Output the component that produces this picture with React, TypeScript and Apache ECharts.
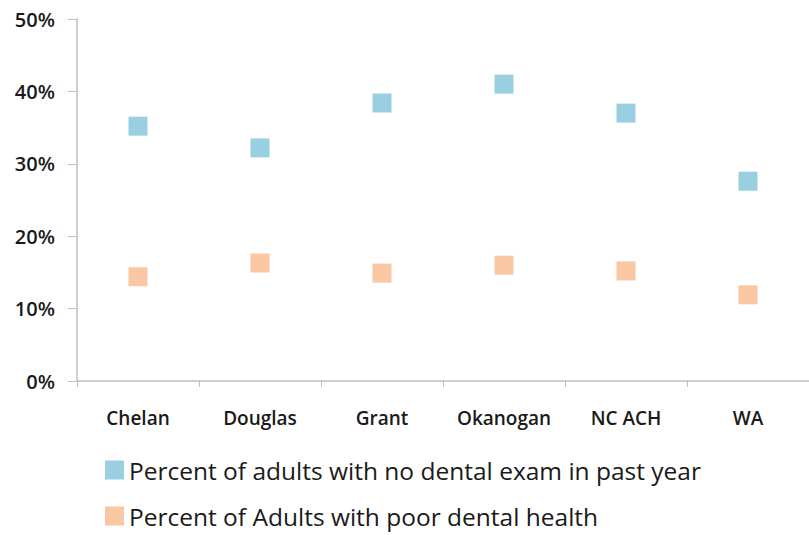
import React, { useEffect, useRef } from "react";
import * as echarts from "echarts";

const categories = ["Chelan", "Douglas", "Grant", "Okanogan", "NC ACH", "WA"];
const noExam = [35.2, 32.2, 38.4, 41.0, 37.0, 27.6];
const poorHealth = [14.4, 16.3, 14.9, 16.0, 15.2, 11.9];
const seriesNames = [
  "Percent of adults with no dental exam in past year",
  "Percent of Adults with poor dental health",
];

export default function App() {
  const ref = useRef<HTMLDivElement>(null);
  useEffect(() => {
    if (!ref.current) return;
    const chart = echarts.init(ref.current, undefined, { renderer: "svg" });
    const axisColor = "#bfbfbf";
    const legendBase = {
      orient: "horizontal",
      left: 105,
      itemWidth: 19,
      itemHeight: 19,
      itemTextGap: 12,
      padding: 0,
      icon: "rect",
      textStyle: {
        fontSize: 24.5,
        lineHeight: 26,
        color: "#1a1a1a",
        fontFamily: "Open Sans",
      },
    };
    chart.setOption({
      animation: false,
      backgroundColor: "#ffffff",
      grid: { left: 77, right: -8, top: 19, bottom: 154 },
      xAxis: {
        type: "category",
        data: categories,
        boundaryGap: true,
        axisLine: { lineStyle: { color: axisColor, width: 1.5 } },
        axisTick: { show: true, interval: 0, length: 6, lineStyle: { color: axisColor } },
        axisLabel: {
          interval: 0,
          margin: 27,
          fontSize: 19,
          fontWeight: 600,
          color: "#1a1a1a",
          fontFamily: "Open Sans",
        },
        splitLine: { show: false },
      },
      yAxis: {
        type: "value",
        min: 0,
        max: 50,
        interval: 10,
        axisLine: { show: true, lineStyle: { color: axisColor, width: 1.5 } },
        axisTick: { show: true, length: 9, lineStyle: { color: axisColor } },
        axisLabel: {
          margin: 22,
          fontSize: 20,
          fontWeight: 600,
          color: "#1a1a1a",
          fontFamily: "Open Sans",
          formatter: "{value}%",
        },
        splitLine: { show: false },
      },
      legend: [
        { ...legendBase, top: 457, data: [seriesNames[0]] },
        { ...legendBase, top: 503, data: [seriesNames[1]] },
      ],
      series: [
        {
          name: seriesNames[0],
          type: "scatter",
          symbol: "rect",
          symbolSize: 19,
          itemStyle: { color: "#7fc3d8" },
          data: noExam,
        },
        {
          name: seriesNames[1],
          type: "scatter",
          symbol: "rect",
          symbolSize: 19,
          itemStyle: { color: "#f8b98a" },
          data: poorHealth,
        },
      ],
    });
    return () => chart.dispose();
  }, []);
  return (
    <div
      ref={ref}
      style={{ position: "fixed", left: 0, top: 0, width: 809, height: 535 }}
    />
  );
}
